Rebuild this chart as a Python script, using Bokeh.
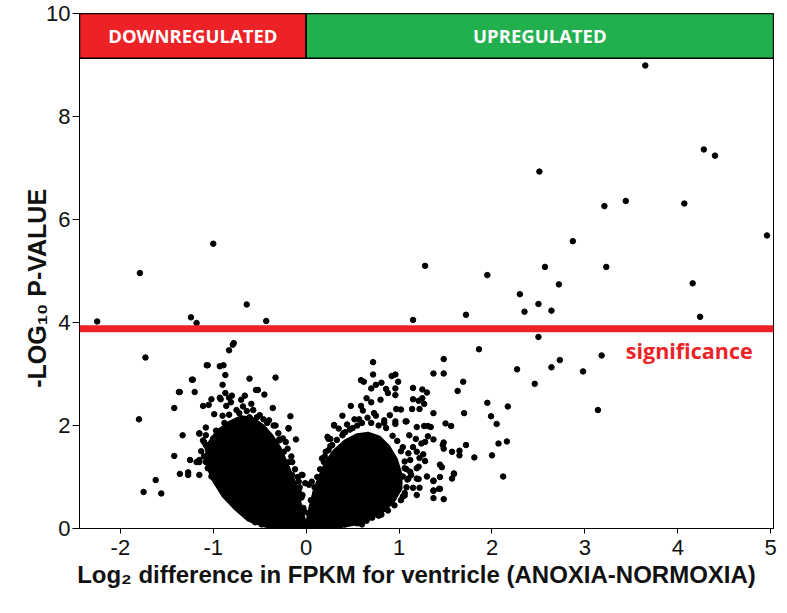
from bokeh.plotting import figure
from bokeh.models import Range1d, Span, Label, FixedTicker
from bokeh.embed import file_html
from bokeh.resources import INLINE
from bokeh.core.properties import value

# ---------------- data ----------------
x_ticks = [-2, -1, 0, 1, 2, 3, 4, 5]
y_ticks = [0, 2, 4, 6, 8, 10]
x_min, x_max = -2.44, 5.03
y_min, y_max = 0, 10

x_title = "Log\u2082 difference in FPKM for ventricle (ANOXIA-NORMOXIA)"
y_title = "-LOG\u2081\u2080 P-VALUE"

significance_level = 3.88
significance_text = "significance"
significance_text_x = 3.44
significance_text_y = 3.45

banner_labels = ["DOWNREGULATED", "UPREGULATED"]
banner_left = [-2.44, 0.0]
banner_right = [0.0, 5.03]
banner_bottom = [9.13, 9.13]
banner_top = [10.0, 10.0]
banner_colors = ["#ED2227", "#22B04F"]

# genes above the significance line
sig_x = [3.65, 4.28, 4.40, 2.51, 3.21, 3.44, 4.07, 4.96, 2.87, 1.28, 2.57, 3.23,
         1.95, 2.72, 4.16, 2.30, 2.50, 1.15, 1.72, 2.35, 2.64, 4.24,
         -2.25, -1.79, -1.00, -0.64, -1.24, -1.18, -0.43]
sig_y = [8.99, 7.36, 7.24, 6.93, 6.26, 6.36, 6.31, 5.69, 5.58, 5.10, 5.08, 5.08,
         4.92, 4.74, 4.76, 4.55, 4.36, 4.05, 4.15, 4.21, 4.23, 4.11,
         4.02, 4.96, 5.53, 4.35, 4.10, 3.99, 4.03]

# non-significant genes, up-shifted side (sparse part of the cloud)
right_x = [2.50, 1.86, 2.73, 2.64, 2.27, 2.46, 1.48, 1.37, 1.48, 1.69, 1.63, 1.95, 2.17,
           1.70, 1.99, 2.05, 2.16, 2.07, 2.00, 2.12, 1.81, 1.72, 1.65, 1.65, 1.57, 1.56,
           1.50, 1.37, 1.48, 1.47, 1.48, 1.59, 1.57, 1.48, 1.37, 1.37, 1.37, 1.44, 1.46,
           1.44, 2.98, 3.18, 3.14,
           0.72, 0.72, 0.59, 0.62, 0.81, 0.75, 0.70, 0.92, 0.96, 0.99, 0.96, 0.86, 0.88,
           0.96, 0.80, 0.65, 0.70, 0.48, 0.59, 0.61, 0.75, 0.73, 0.39, 0.97, 1.02, 1.07,
           0.96, 0.96, 0.84, 0.30, 0.35, 0.23, 0.26, 0.55, 0.42, 0.47, 0.17, 0.19, -0.05,
           1.15, 1.25, 1.30, 1.15, 1.21, 1.25, 1.27, 1.14, 1.22, 1.08, 1.19, 1.27, 1.31,
           1.34, 1.11, 1.18, 1.31, 1.37, 1.04, 1.15, 1.24, 1.28, 1.10, 1.19, 1.26, 1.12,
           1.22, 1.28, 1.06, 1.12, 1.19, 1.04, 1.10, 1.21, 1.30, 1.37, 1.44, 1.59, 1.15,
           1.22, 1.06, 1.19, 1.37, 1.43,
           0.94, 1.04, 1.06, 0.85, 0.81, 0.71, 0.60, 0.42, 0.88, 0.96, 1.13, 1.19, 1.21,
           -0.08, 0.06, 0.03, 0.24, 0.28, 0.39, -0.04, -0.01, 0.10, 0.21, 0.30, 0.24,
           0.02, 0.05, 0.09, 0.12, 0.15, 0.20, 0.26, 0.33, 0.40, 0.50, 0.60, 0.70, 0.78,
           0.86, 0.93, 0.98, 1.02, 1.06, 1.08, 1.09, 1.08, 1.02, 0.95, 0.88, 0.78, 0.65,
           0.55, 0.35, 0.20, 0.52, 0.66, 0.84, 0.90, 0.44, 0.57]
right_y = [3.72, 3.48, 3.27, 3.13, 3.09, 2.81, 3.29, 3.01, 3.01, 2.85, 2.67, 2.44, 2.37,
           2.24, 2.18, 2.03, 1.69, 1.65, 1.42, 1.01, 1.38, 1.62, 1.51, 1.42, 1.49, 1.99,
           2.04, 2.24, 1.67, 1.62, 1.55, 1.07, 0.97, 0.57, 0.59, 0.73, 0.93, 0.77, 1.19,
           1.24, 3.05, 3.36, 2.30,
           3.23, 2.99, 2.88, 2.85, 2.83, 2.79, 2.72, 2.96, 2.99, 2.85, 2.72, 2.71, 2.63,
           2.59, 2.50, 2.53, 2.45, 2.38, 2.38, 2.29, 2.19, 2.24, 2.19, 2.32, 2.31, 2.08,
           2.08, 2.03, 2.05, 2.01, 1.94, 1.78, 1.74, 2.00, 1.87, 1.92, 1.36, 1.29, 1.04,
           2.73, 2.70, 2.64, 2.51, 2.48, 2.53, 2.42, 2.32, 2.32, 2.08, 1.97, 1.99, 1.99,
           1.97, 1.81, 1.74, 1.79, 1.73, 1.58, 1.58, 1.65, 1.68, 1.46, 1.49, 1.44, 1.33,
           1.37, 1.31, 1.17, 1.10, 1.17, 1.01, 0.97, 0.96, 1.01, 0.92, 1.00, 1.06, 0.79,
           0.79, 0.64, 0.65, 0.74, 0.77,
           0.59, 0.62, 0.69, 0.40, 0.27, 0.21, 0.08, 0.08, 0.85, 1.01, 1.04, 0.97, 1.20,
           0.72, 0.91, 0.85, 1.52, 1.62, 1.81, 1.04, 0.88, 0.69, 1.49, 2.00, 1.74,
           0.30, 0.55, 0.80, 1.00, 1.15, 1.40, 1.60, 1.72, 1.85, 1.95, 2.05, 2.05, 2.00,
           1.95, 1.80, 1.70, 1.50, 1.30, 1.15, 0.95, 0.80, 0.55, 0.45, 0.35, 0.25, 0.15,
           0.10, 0.05, 0.03, 2.12, 2.15, 2.10, 2.20, 2.02, 2.12]

# non-significant genes, down-shifted side
left_x = [-1.73, -1.80, -1.62, -1.75, -1.56, -1.42, -1.36, -1.33, -1.42, -1.36, -1.22,
          -1.20, -1.06, -0.93, -0.89, -0.87, -0.90, -0.87, -0.83, -0.79, -0.78, -0.61,
          -0.54, -0.52, -0.45, -0.33, -0.36, -0.17, -0.11, -0.19, -1.25, -1.27, -1.27,
          -1.15, -1.11, -1.05, -1.02, -0.99, -0.93, -0.92, -0.80, -0.70, -0.66, -0.59,
          -0.72, -0.61, -0.53, -0.40, -0.33, -1.08, -0.97,
          -0.83, -0.81, -0.86, -0.68, -0.90, -0.83, -1.15, -1.10, -1.08,
          -1.11, -1.06, -1.08, -1.06, -1.02, -0.97, -0.92, -0.86, -0.79, -0.72, -0.65,
          -0.58, -1.15, -1.15, -0.29, -0.19, -0.24, -0.15,
          -1.18, -1.15, -1.08, -1.23, -1.37, -1.07,
          -0.29, -0.22, -0.27, -0.19, -0.15, -0.08, -0.04, -0.02, -0.08,
          -1.13, -1.10, -1.05, -1.00, -0.95, -1.02, -0.98, -0.95, -0.90, -0.87, -0.83,
          -0.80, -0.76, -0.70, -0.62, -0.55, -0.48, -0.40,
          -0.25, -0.20, -0.16, -0.12, -0.09, -0.07, -0.05, -0.03, -0.35, -0.30, -0.42,
          -0.75, -0.64, -0.50, -0.88, -0.57, -0.46]
left_y = [3.32, 2.12, 0.94, 0.71, 0.68, 1.41, 1.06, 1.81, 2.34, 2.65, 2.89,
          2.65, 3.17, 3.15, 3.17, 2.98, 2.79, 2.63, 3.46, 3.57, 3.60, 2.91,
          2.69, 2.69, 2.60, 2.93, 2.34, 2.18, 1.73, 1.95, 1.33, 1.04, 1.09,
          1.85, 2.38, 2.40, 2.51, 2.22, 2.54, 2.51, 2.58, 2.50, 2.58, 2.42,
          2.24, 2.16, 2.16, 2.10, 2.00, 1.96, 1.90,
          2.54, 2.45, 2.38, 2.37, 2.19, 2.21, 1.84, 1.68, 1.62,
          1.71, 1.55, 1.29, 1.17, 1.01, 0.91, 0.78, 0.65, 0.53, 0.40, 0.27,
          0.17, 1.04, 1.33, 1.71, 1.94, 1.49, 1.29,
          1.29, 1.29, 1.81, 2.89, 2.65, 3.17,
          1.73, 1.68, 1.49, 1.29, 1.04, 0.91, 0.65, 0.33, 0.14,
          1.50, 1.40, 1.45, 1.75, 1.85, 1.20, 1.10, 0.98, 0.88, 0.75, 0.70,
          0.60, 0.48, 0.35, 0.22, 0.12, 0.08, 0.04,
          1.75, 1.55, 1.40, 1.15, 1.00, 0.80, 0.60, 0.40, 2.00, 1.85, 2.05,
          2.30, 2.28, 2.20, 2.05, 2.30, 2.12]

# outlines of the saturated (fully overlapping) cores of the two clouds
core_left_x = [-1.05, -0.95, -0.82, -0.70, -0.58, -0.47, -0.38, -0.29, -0.21, -0.13,
               -0.07, -0.01, -0.22, -0.45, -0.62, -0.76, -0.89, -1.00, -1.07]
core_left_y = [1.62, 1.88, 2.05, 2.15, 2.12, 1.98, 1.80, 1.55, 1.22, 0.88,
               0.45, 0.03, 0.03, 0.07, 0.18, 0.40, 0.65, 0.97, 1.32]
core_right_x = [0.01, 0.05, 0.10, 0.16, 0.22, 0.31, 0.42, 0.55, 0.67, 0.78, 0.88, 0.96,
                1.01, 1.01, 0.93, 0.83, 0.69, 0.52, 0.31, 0.13]
core_right_y = [0.03, 0.40, 0.75, 1.03, 1.27, 1.50, 1.68, 1.80, 1.83, 1.76, 1.58, 1.34,
                1.05, 0.78, 0.54, 0.36, 0.21, 0.10, 0.04, 0.02]

# ---------------- figure ----------------
p = figure(width=779, height=597, output_backend="svg", toolbar_location=None,
           x_range=Range1d(x_min, x_max), y_range=Range1d(y_min, y_max),
           min_border_left=79, min_border_right=6, min_border_top=13, min_border_bottom=69)
p.grid.visible = False
p.outline_line_color = "black"
p.outline_line_width = 1
p.background_fill_color = "white"
p.border_fill_color = "white"

p.patches([core_left_x, core_right_x], [core_left_y, core_right_y],
          fill_color="black", line_color="black", line_width=5, line_join="round")
p.scatter(left_x + right_x, left_y + right_y, size=5.5, color="black")
p.scatter(sig_x, sig_y, size=5.5, color="black")

p.add_layout(Span(location=significance_level, dimension="width",
                  line_color="#ED2227", line_width=7))
p.add_layout(Label(x=significance_text_x, y=significance_text_y, text=significance_text,
                   text_color="#ED2227", text_font="Open Sans", text_font_style="bold",
                   text_font_size="21.5px", text_baseline="middle", text_align="left"))

p.quad(left=banner_left, right=banner_right, bottom=banner_bottom, top=banner_top,
       fill_color=banner_colors, line_color="black", line_width=1.5)
p.text(x=[(a + b) / 2 for a, b in zip(banner_left, banner_right)],
       y=[(a + b) / 2 for a, b in zip(banner_bottom, banner_top)],
       text=banner_labels, text_color="white", text_font=value("Open Sans"),
       text_font_style="bold", text_font_size="18.5px",
       text_align="center", text_baseline="middle")

for ax in (p.xaxis[0], p.yaxis[0]):
    ax.axis_line_color = "black"
    ax.major_tick_line_color = "black"
    ax.minor_tick_line_color = None
    ax.major_tick_in = 0
    ax.major_label_text_font = "Liberation Sans"
    ax.major_label_text_font_size = "22px"
    ax.major_label_text_color = "#111111"
    ax.axis_label_text_font = "Liberation Sans"
    ax.axis_label_text_font_style = "bold"
    ax.axis_label_text_color = "#111111"

p.xaxis.ticker = FixedTicker(ticks=x_ticks)
p.yaxis.ticker = FixedTicker(ticks=y_ticks)
p.xaxis.major_label_overrides = {t: str(t) for t in x_ticks}
p.yaxis.major_label_overrides = {t: str(t) for t in y_ticks}
p.xaxis.major_tick_out = 5
p.yaxis.major_tick_out = 7
p.xaxis.major_label_standoff = 6
p.yaxis.major_label_standoff = 2
p.xaxis.axis_label = x_title + "\u00a0" * 3
p.yaxis.axis_label = y_title + "\u00a0" * 5
p.xaxis.axis_label_text_font_size = "24px"
p.yaxis.axis_label_text_font_size = "25px"
p.xaxis.axis_label_standoff = 3
p.yaxis.axis_label_standoff = -8

open("out.html", "w").write(file_html(p, INLINE))
